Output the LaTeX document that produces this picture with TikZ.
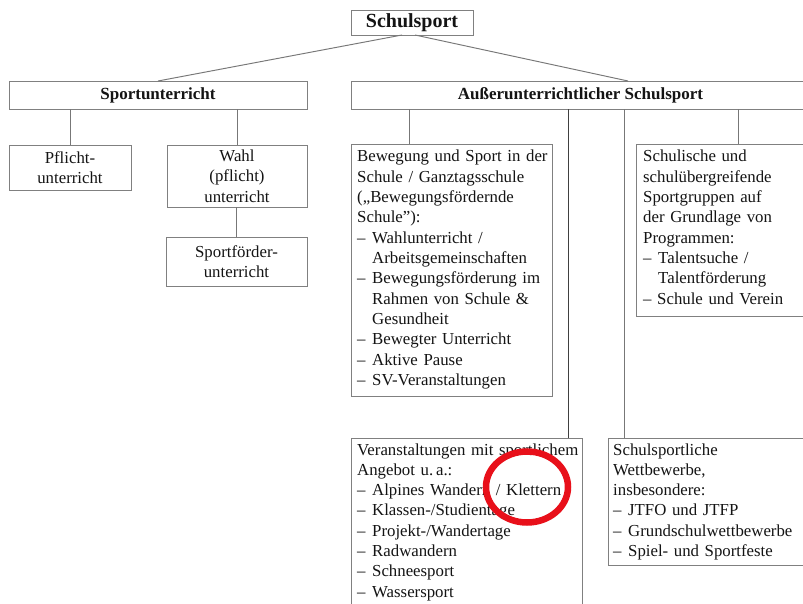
\documentclass[tikz,border=0pt]{standalone}
\usepackage{fontspec}
\setmainfont{Liberation Serif}
\usetikzlibrary{calc,shapes.geometric}
\definecolor{boxline}{HTML}{808080}
\definecolor{connline}{HTML}{777777}
\definecolor{txt}{HTML}{141414}
\definecolor{markred}{HTML}{E8101A}
\newcommand{\dashitem}[1]{\makebox[15pt][l]{–}#1}
\newcommand{\contline}{\hspace*{15pt}}
\newcommand{\bodyfont}{\fontsize{16.8}{20.33}\selectfont}
\begin{document}
\begin{tikzpicture}[x=1pt,y=-1pt,
  box/.style={draw=boxline, line width=0.95pt, inner sep=0pt, outer sep=0pt, anchor=north west, text=txt},
  ctext/.style={align=center, font=\bodyfont},
  head/.style={font=\fontsize{17}{20}\selectfont\bfseries},
  ltext/.style={anchor=base west, text width=260pt, align=left, inner sep=0pt, font=\bodyfont, text=txt},
  conn/.style={draw=connline, line width=0.95pt},
  darkconn/.style={draw=black!75, line width=0.95pt}]
\clip (0,0) rectangle (803,604);
\fill[white] (0,0) rectangle (803,604);
% boxes
\node[box, minimum width=122pt, minimum height=25pt, font=\fontsize{20}{24}\selectfont\bfseries] (top) at (351,10) {Schulsport};
\node[box, head, minimum width=298pt, minimum height=28pt] (sport) at (9,81) {Sportunterricht};
\node[box, head, minimum width=459pt, minimum height=28pt] (auss) at (351,81) {Außerunterrichtlicher Schulsport};
\node[box, ctext, minimum width=122pt, minimum height=45pt] (pfl) at (9,145) {Pflicht-\\unterricht};
\node[box, ctext, minimum width=140pt, minimum height=62pt] (wahl) at (167,145) {Wahl\\(pflicht)\\unterricht};
\node[box, ctext, minimum width=141pt, minimum height=49pt] (sfu) at (166,237) {Sportförder-\\unterricht};
\node[box, minimum width=201pt, minimum height=252pt] (bew) at (351,144) {};
\node[box, minimum width=180pt, minimum height=172pt] (sch) at (636,144) {};
\node[box, minimum width=231pt, minimum height=200pt] (ver) at (351,438) {};
\node[box, minimum width=210pt, minimum height=127pt] (spo) at (608,438) {};
% texts
\node[ltext] (bewtxt) at (357,162) {Bewegung und Sport in der\\
Schule / Ganztagsschule\\
(„Bewegungsfördernde\\
Schule”):\\
\dashitem{Wahlunterricht /}\\
\contline Arbeitsgemeinschaften\\
\dashitem{Bewegungsförderung im}\\
\contline Rahmen von Schule \&\\
\contline Gesundheit\\
\dashitem{Bewegter Unterricht}\\
\dashitem{Aktive Pause}\\
\dashitem{SV-Veranstaltungen}};
\node[ltext] (schtxt) at (643,162) {Schulische und\\
schulübergreifende\\
Sportgruppen auf\\
der Grundlage von\\
Programmen:\\
\dashitem{Talentsuche /}\\
\contline Talentförderung\\
– Schule und Verein};
\node[ltext] (vertxt) at (357,455) {Veranstaltungen mit sportlichem\\
Angebot u.\,a.:\\
\dashitem{Alpines Wandern / Klettern}\\
\dashitem{Klassen-/Studientage}\\
\dashitem{Projekt-/Wandertage}\\
\dashitem{Radwandern}\\
\dashitem{Schneesport}\\
\dashitem{Wassersport}};
\node[ltext] (spotxt) at (613,455) {Schulsportliche\\
Wettbewerbe,\\
insbesondere:\\
\dashitem{JTFO und JTFP}\\
\dashitem{Grundschulwettbewerbe}\\
\dashitem{Spiel- und Sportfeste}};
% connector anchor points
\coordinate (topl) at ($(top.south)+(-10,0)$);
\coordinate (topr) at ($(top.south)+(3,0)$);
\coordinate (aussin) at ($(auss.north west)+(277,0)$);
\coordinate (bewtop) at ($(bew.north west)+(58,0)$);
\coordinate (vertop) at ($(ver.north east)+(-14,0)$);
\coordinate (spotop) at ($(spo.north west)+(16,0)$);
\coordinate (schtop) at ($(sch.north west)+(102,0)$);
% connectors
\draw[conn] (topl) -- (sport.north);
\draw[conn] (topr) -- (aussin);
\draw[conn] (pfl.north) -- (pfl.north |- sport.south);
\draw[conn] (wahl.north) -- (wahl.north |- sport.south);
\draw[conn] (sfu.north) -- (sfu.north |- wahl.south);
\draw[conn] (bewtop) -- (bewtop |- auss.south);
\draw[darkconn] (vertop) -- (vertop |- auss.south);
\draw[conn] (spotop) -- (spotop |- auss.south);
\draw[conn] (schtop) -- (schtop |- auss.south);
% red mark
\node[draw=markred, line width=6.5pt, ellipse, inner sep=0pt, minimum width=82pt, minimum height=71pt] (mark) at (527,487) {};
\end{tikzpicture}
\end{document}
